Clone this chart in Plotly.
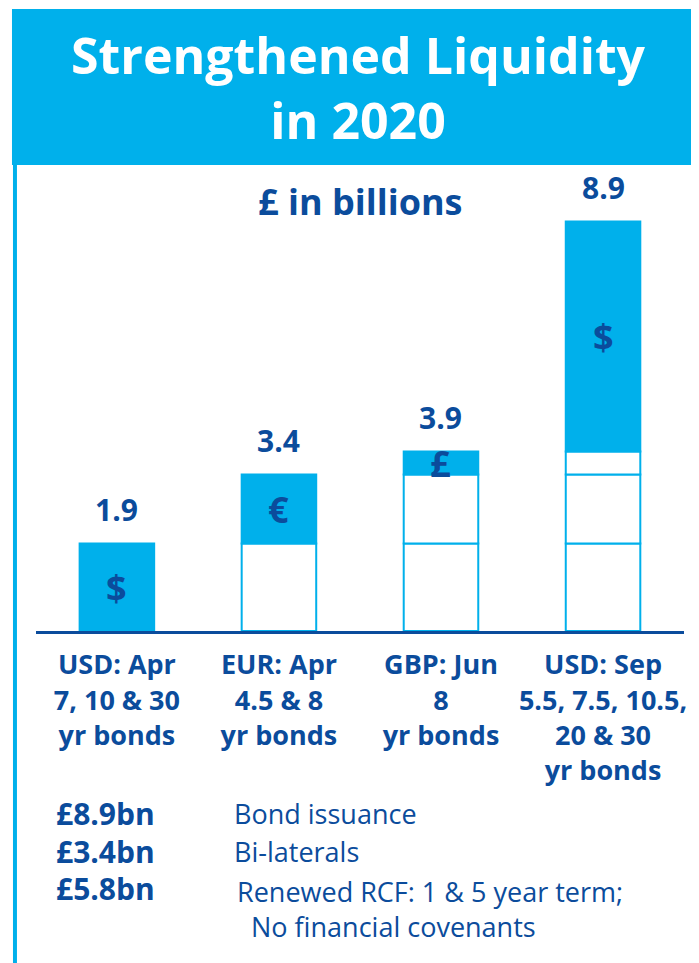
import plotly.graph_objects as go

# ---- data ----
categories = ["USD: Apr<br>7, 10 & 30<br>yr bonds",
              "EUR: Apr<br>4.5 & 8<br>yr bonds",
              "GBP: Jun<br>8<br>yr bonds",
              "USD: Sep<br>5.5, 7.5, 10.5,<br>20 & 30<br>yr bonds"]
totals = [1.9, 3.4, 3.9, 8.9]
value_labels = ["1.9", "3.4", "3.9", "8.9"]
currency_symbols = ["$", "€", "£", "$"]
summary_amounts = ["£8.9bn", "£3.4bn", "£5.8bn"]
summary_texts = ["Bond issuance", "Bi-laterals",
                 "Renewed RCF: 1 & 5 year term;<br>&nbsp;&nbsp;No financial covenants"]

OFF = 8  # page body margin
W, H = 699 - OFF, 963 - OFF
LIGHT = "#00b0eb"
DARK = "#0b4c9c"
FONT = "Open Sans"


def px(x):
    return (x - OFF) / W


def py(y):
    return 1 - (y - OFF) / H


fig = go.Figure()

xs = list(range(len(categories)))
increments = [totals[0]] + [round(totals[i] - totals[i - 1], 2) for i in range(1, len(totals))]
bases = [0] + totals[:-1]

for seg in range(len(totals)):
    seg_x, seg_y, seg_b, seg_c = [], [], [], []
    for bar in range(seg, len(totals)):
        seg_x.append(xs[bar])
        seg_y.append(increments[seg])
        seg_b.append(bases[seg])
        seg_c.append(LIGHT if bar == seg else "white")
    fig.add_trace(go.Bar(
        x=seg_x, y=seg_y, base=seg_b, width=0.46,
        marker=dict(color=seg_c, line=dict(color=LIGHT, width=2)),
        hoverinfo="skip", showlegend=False,
    ))

annotations = []
for i in xs:
    annotations.append(dict(x=i, y=totals[i], xref="x", yref="y", text=value_labels[i],
                            showarrow=False, yanchor="bottom", yshift=12,
                            font=dict(family=FONT, size=30, color=DARK, weight="bold")))
    annotations.append(dict(x=i, y=bases[i] + increments[i] / 2, xref="x", yref="y",
                            text=currency_symbols[i], showarrow=False, yanchor="middle",
                            font=dict(family=FONT, size=36, color=DARK, weight="bold")))

# title
annotations.append(dict(x=px(360), y=py(88), xref="paper", yref="paper", yanchor="middle",
                        text="Strengthened Liquidity<br>in 2020", showarrow=False, align="center",
                        font=dict(family=FONT, size=50, color="white", weight="bold")))
annotations.append(dict(x=px(362), y=py(201), xref="paper", yref="paper", yanchor="middle",
                        text="£ in billions", showarrow=False,
                        font=dict(family=FONT, size=36, color=DARK, weight="bold")))

row_y = [813, 851, 888]
for amt, yy in zip(summary_amounts, row_y):
    annotations.append(dict(x=px(54), y=py(yy), xref="paper", yref="paper", text=amt,
                            showarrow=False, xanchor="left", yanchor="middle",
                            font=dict(family=FONT, size=30, color=DARK, weight="bold")))
text_pos = [(233, 813, "middle"), (233, 851, "middle"), (236, 871, "top")]
for t, (xx, yy, ya) in zip(summary_texts, text_pos):
    annotations.append(dict(x=px(xx), y=py(yy), xref="paper", yref="paper", text=t,
                            showarrow=False, xanchor="left", yanchor=ya, align="left",
                            font=dict(family=FONT, size=27, color=DARK)))

shapes = [
    dict(type="rect", xref="paper", yref="paper", x0=px(12), x1=px(710), y0=py(165), y1=py(9),
         fillcolor=LIGHT, line=dict(width=0), layer="below"),
    dict(type="rect", xref="paper", yref="paper", x0=px(13), x1=px(17), y0=py(975), y1=py(165),
         fillcolor=LIGHT, line=dict(width=0), layer="below"),
]

baseline = 631
top = 171
fig.update_layout(
    width=W, height=H, margin=dict(l=0, r=0, t=0, b=0),
    paper_bgcolor="white", plot_bgcolor="white",
    barmode="overlay", showlegend=False,
    annotations=annotations, shapes=shapes,
    xaxis=dict(domain=[px(36), px(687)], range=[-0.5, 3.5], tickvals=xs, ticktext=categories,
               showline=True, linecolor=DARK, linewidth=3, showgrid=False, zeroline=False,
               ticks="", ticklabelstandoff=8,
               tickfont=dict(family=FONT, size=27, color=DARK, weight="bold")),
    yaxis=dict(domain=[py(baseline), py(top)], range=[0, 10], visible=False, showgrid=False),
)

fig.write_html("out.html")
